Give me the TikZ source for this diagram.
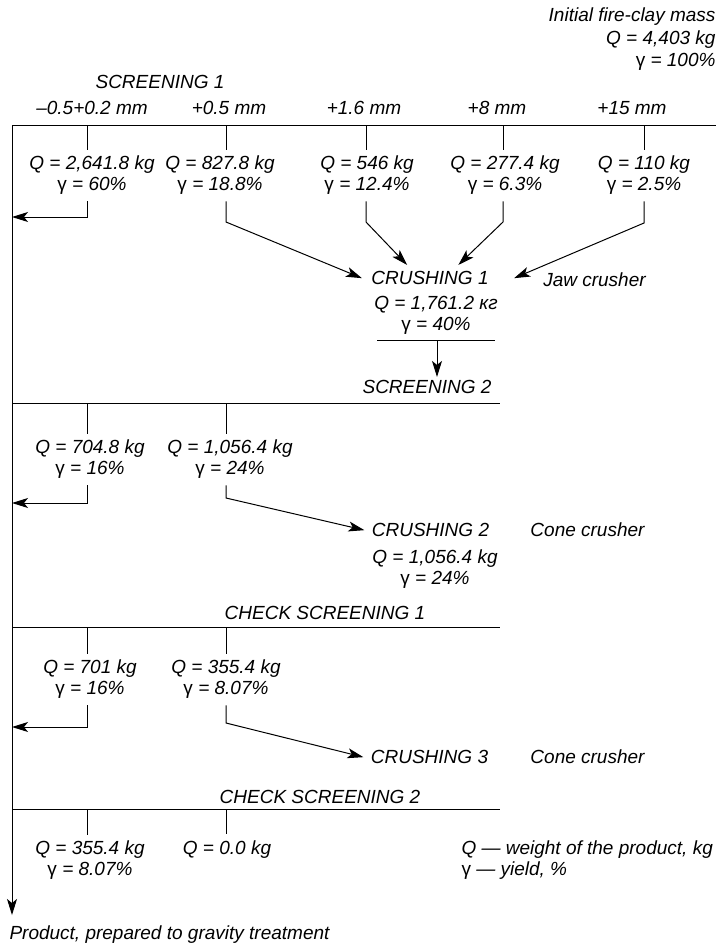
\documentclass[tikz,border=0pt]{standalone}
\usepackage{fontspec}
\setmainfont{Liberation Sans}
\usetikzlibrary{arrows.meta,positioning}
\newcommand{\yg}{\textup{γ}}
\tikzset{
  txt/.style={font=\itshape\fontsize{19}{21}\selectfont, inner sep=3pt},
  val/.style={txt, align=center, inner xsep=0pt, inner ysep=6pt},
  flow/.style={-{Stealth[length=16pt,width=10pt,inset=4pt]}},
}
\begin{document}
\begin{tikzpicture}[x=1pt,y=-1pt,line width=1pt]
  \useasboundingbox (0,0) rectangle (722,948);
  % screening lines
  \coordinate (top) at (12,125);
  \coordinate (end) at (12,915);
  \coordinate (s1e) at (716,125);
  \coordinate (s2a) at (12,403);
  \coordinate (s2e) at (500,403);
  \coordinate (s3a) at (12,627);
  \coordinate (s3e) at (500,627);
  \coordinate (s4a) at (12,809);
  \coordinate (s4e) at (500,809);
  \draw (top) -- (s1e);
  \draw (s2a) -- (s2e);
  \draw (s3a) -- (s3e);
  \draw (s4a) -- (s4e);
  \draw[flow] (top) -- (end);
  % return points on the main line
  \coordinate (m1) at (12,217);
  \coordinate (m2) at (12,503);
  \coordinate (m3) at (12,727);
  % texts
  \node[txt, align=right, anchor=east, font=\itshape\fontsize{19}{22.5}\selectfont] (init) at (719,39.4)
    {Initial fire-clay mass\\Q = 4,403 kg\\\yg{} = 100\%};
  \node[txt, anchor=base] (scr1) at (160,88.7) {SCREENING 1};
  \node[txt, anchor=base] (mm1) at (92,114.7) {–0.5+0.2 mm};
  \node[txt, anchor=base] (mm2) at (229,114.7) {+0.5 mm};
  \node[txt, anchor=base] (mm3) at (364,114.7) {+1.6 mm};
  \node[txt, anchor=base] (mm4) at (497,114.7) {+8 mm};
  \node[txt, anchor=base] (mm5) at (632,114.7) {+15 mm};
  % screening 1 products
  \coordinate (t11) at (87.5,125);
  \coordinate (t12) at (226,125);
  \coordinate (t13) at (366,125);
  \coordinate (t14) at (503,125);
  \coordinate (t15) at (644,125);
  \node[val] (v11) at (92,175.4) {Q = 2,641.8 kg\\\yg{} = 60\%};
  \node[val] (v12) at (220,175.4) {Q = 827.8 kg\\\yg{} = 18.8\%};
  \node[val] (v13) at (367,175.4) {Q = 546 kg\\\yg{} = 12.4\%};
  \node[val] (v14) at (505,175.4) {Q = 277.4 kg\\\yg{} = 6.3\%};
  \node[val] (v15) at (644,175.4) {Q = 110 kg\\\yg{} = 2.5\%};
  \draw (t11) -- (t11 |- v11.north);
  \draw (t12) -- (t12 |- v12.north);
  \draw (t13) -- (t13 |- v13.north);
  \draw (t14) -- (t14 |- v14.north);
  \draw (t15) -- (t15 |- v15.north);
  % crushing 1
  \node[txt, anchor=base, inner xsep=9pt, inner ysep=6pt] (cr1) at (430,284.7) {CRUSHING 1};
  \node[txt, anchor=base] (jaw) at (594.5,286.7) {Jaw crusher};
  \node[val] (q1) at (436,315.4) {Q = 1,761.2 кг\\\yg{} = 40\%};
  \coordinate (k12) at (226,222);
  \coordinate (k13) at (366,222);
  \coordinate (k14) at (503,222);
  \coordinate (k15) at (644,223);
  \draw[flow] (t11 |- v11.south) |- (m1);
  \draw[flow] (t12 |- v12.south) -- (k12) -- (cr1.west);
  \draw[flow] (t13 |- v13.south) -- (k13) -- (cr1.150);
  \draw[flow] (t14 |- v14.south) -- (k14) -- (cr1.25);
  \draw[flow] (t15 |- v15.south) -- (k15) -- ([xshift=16pt]cr1.east);
  \coordinate (c1a) at (377,340);
  \coordinate (c1b) at (495,340);
  \coordinate (c1m) at (437,340);
  \draw (c1a) -- (c1b);
  % screening 2
  \node[txt, anchor=base] (scr2) at (427,393.7) {SCREENING 2};
  \draw[flow] (c1m) -- (c1m |- scr2.north);
  \coordinate (t21) at (87.5,403);
  \coordinate (t22) at (226,403);
  \node[val] (v21) at (90,459.4) {Q = 704.8 kg\\\yg{} = 16\%};
  \node[val] (v22) at (230,459.4) {Q = 1,056.4 kg\\\yg{} = 24\%};
  \draw (t21) -- (t21 |- v21.north);
  \draw (t22) -- (t22 |- v22.north);
  % crushing 2
  \node[txt, anchor=base, inner xsep=7pt] (cr2) at (430.5,536.7) {CRUSHING 2};
  \node[txt, anchor=base] (cone1) at (587.5,536.7) {Cone crusher};
  \node[val] (q2) at (435,569.4) {Q = 1,056.4 kg\\\yg{} = 24\%};
  \coordinate (k22) at (226,498);
  \draw[flow] (t21 |- v21.south) |- (m2);
  \draw[flow] (t22 |- v22.south) -- (k22) -- (cr2.west);
  % check screening 1
  \node[txt, anchor=base] (chk1) at (325,619.7) {CHECK SCREENING 1};
  \coordinate (t31) at (87.5,627);
  \coordinate (t32) at (226,627);
  \node[val] (v31) at (90,679.4) {Q = 701 kg\\\yg{} = 16\%};
  \node[val] (v32) at (226,679.4) {Q = 355.4 kg\\\yg{} = 8.07\%};
  \draw (t31) -- (t31 |- v31.north);
  \draw (t32) -- (t32 |- v32.north);
  % crushing 3
  \node[txt, anchor=base, inner xsep=7pt] (cr3) at (429.5,763.7) {CRUSHING 3};
  \node[txt, anchor=base] (cone2) at (587.5,763.7) {Cone crusher};
  \coordinate (k32) at (226,723);
  \draw[flow] (t31 |- v31.south) |- (m3);
  \draw[flow] (t32 |- v32.south) -- (k32) -- (cr3.west);
  % check screening 2
  \node[txt, anchor=base] (chk2) at (320,803.7) {CHECK SCREENING 2};
  \coordinate (t41) at (87.5,809);
  \coordinate (t42) at (226,809);
  \node[val] (v41) at (90,860.4) {Q = 355.4 kg\\\yg{} = 8.07\%};
  \node[txt, anchor=base, inner ysep=6pt] (v42) at (227,854.7) {Q = 0.0 kg};
  \draw (t41) -- (t41 |- v41.north);
  \draw (t42) -- (t42 |- v42.north);
  % legend and product
  \node[txt, align=left, anchor=west, inner sep=0pt] (leg) at (461,860.4)
    {Q — weight of the product, kg\\\yg{} — yield, \%};
  \node[txt, anchor=base west, inner sep=0pt] (prod) at (9,939.7) {Product, prepared to gravity treatment};
\end{tikzpicture}
\end{document}
